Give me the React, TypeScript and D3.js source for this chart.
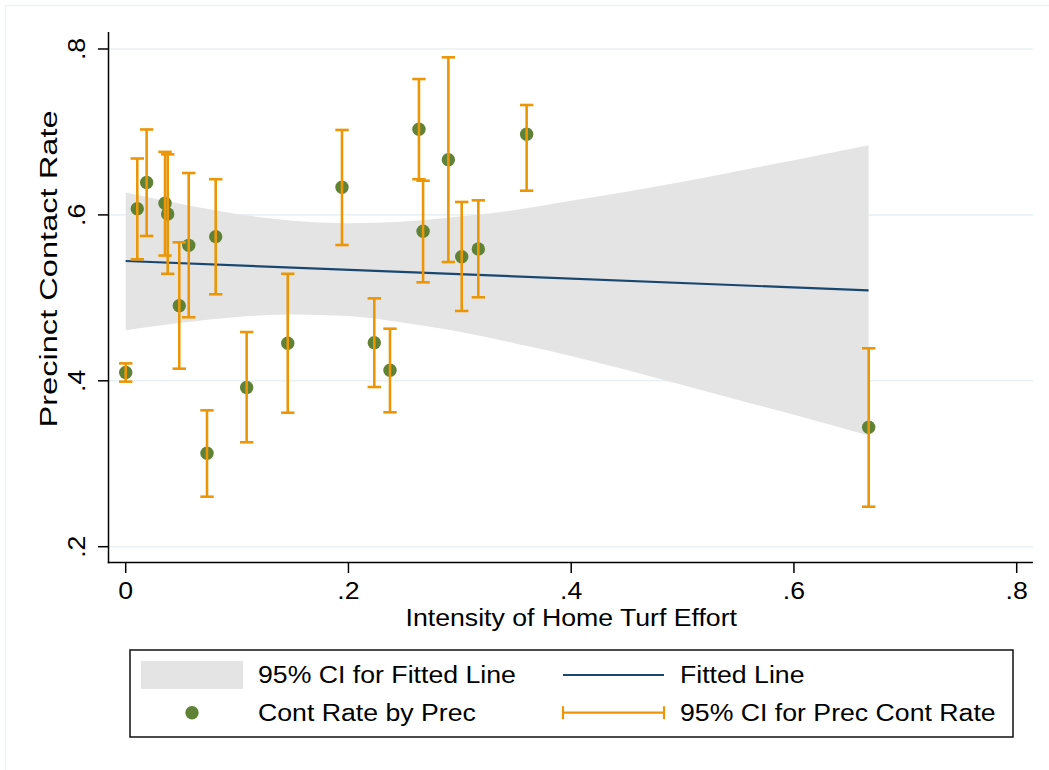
import React from "react";
import * as d3 from "d3";

// Precinct-level observations
const turfEffort = [0, 0.0104, 0.0188, 0.0353, 0.0377, 0.0481, 0.0566, 0.073, 0.0808, 0.1086, 0.1455, 0.1942, 0.2232, 0.2373, 0.2633, 0.267, 0.2897, 0.3017, 0.3166, 0.36, 0.6671];
const contactRate = [0.41, 0.6075, 0.639, 0.614, 0.601, 0.4906, 0.5633, 0.3126, 0.5738, 0.392, 0.4452, 0.6333, 0.446, 0.4127, 0.7032, 0.5802, 0.6666, 0.5496, 0.5589, 0.6972, 0.344];
const ciLow = [0.399, 0.5465, 0.5746, 0.551, 0.529, 0.4146, 0.4766, 0.2603, 0.5043, 0.3259, 0.3615, 0.5637, 0.3925, 0.362, 0.643, 0.5187, 0.5432, 0.4842, 0.5007, 0.6292, 0.2482];
const ciHigh = [0.421, 0.668, 0.703, 0.676, 0.673, 0.567, 0.6505, 0.3644, 0.643, 0.4588, 0.529, 0.7024, 0.4994, 0.4628, 0.7638, 0.6412, 0.79, 0.6156, 0.6176, 0.7325, 0.4392];

// Fitted line and its confidence band
const fitX = [0, 0.667];
const fitY = [0.5444, 0.509];
const bandX = [0, 0.05, 0.1, 0.15, 0.2, 0.25, 0.3, 0.35, 0.4, 0.45, 0.5, 0.55, 0.6, 0.667];
const bandHigh = [0.627, 0.613, 0.601, 0.593, 0.59, 0.592, 0.598, 0.606, 0.617, 0.628, 0.64, 0.653, 0.666, 0.684];
const bandLow = [0.461, 0.47, 0.477, 0.48, 0.478, 0.47, 0.459, 0.445, 0.43, 0.413, 0.395, 0.377, 0.359, 0.334];

const xTicks = [0, 0.2, 0.4, 0.6, 0.8];
const yTicks = [0.2, 0.4, 0.6, 0.8];
const tickLabel = (v: number) => (v === 0 ? "0" : d3.format(".1f")(v).replace(/^0/, ""));

const legendItems = ["95% CI for Fitted Line", "Fitted Line", "Cont Rate by Prec", "95% CI for Prec Cont Rate"];
const xTitle = "Intensity of Home Turf Effort";
const yTitle = "Precinct Contact Rate";

const FONT = "'Liberation Sans', Arial, Helvetica, sans-serif";
const NAVY = "#1a476f";
const GREEN = "#5f8236";
const ORANGE = "#eb9606";
const BAND = "#e4e4e4";
const GRID = "#eaf1f2";
const FS = 23;
const SX = 1.16;

export default function App() {
  const x = d3.scaleLinear().domain([0, 0.8]).range([125.7, 1016.7]);
  const y = d3.scaleLinear().domain([0.2, 0.8]).range([546.7, 49]);
  const plotL = 108.5, plotR = 1033, plotT = 32, plotB = 562.5;

  const bandPts = bandX.map((v, i) => ({ v, lo: bandLow[i], hi: bandHigh[i] }));
  const area = d3
    .area<{ v: number; lo: number; hi: number }>()
    .x((d) => x(d.v))
    .y0((d) => y(d.lo))
    .y1((d) => y(d.hi))
    .curve(d3.curveMonotoneX);
  const line = d3
    .line<number>()
    .x((_, i) => x(fitX[i]))
    .y((d) => y(d));

  const capW = 6.7;
  const hText = (tx: number, ty: number, s: string, anchor = "start", sx = SX, fs = FS) => (
    <text
      transform={`translate(${tx},${ty}) scale(${sx},1)`}
      textAnchor={anchor}
      fontFamily={FONT}
      fontSize={fs}
      fill="#000"
    >
      {s}
    </text>
  );

  const row1 = 675, row2 = 712.7;

  return (
    <svg width={1049} height={770} style={{ position: "absolute", left: 0, top: 0, background: "#fff" }}>
      <rect x={0} y={0} width={1049} height={770} fill="#fff" />
      {/* outer graph region outline */}
      <path d="M5.5,770 L5.5,5.5 L1049,5.5" fill="none" stroke="#eef2f2" strokeWidth={1.5} />

      {/* gridlines */}
      {yTicks.map((t) => (
        <line key={t} x1={plotL} x2={plotR} y1={y(t)} y2={y(t)} stroke={GRID} strokeWidth={1.6} />
      ))}

      {/* CI band */}
      <path d={area(bandPts) || ""} fill={BAND} />
      {/* fitted line */}
      <path d={line(fitY) || ""} fill="none" stroke={NAVY} strokeWidth={2.2} />

      {/* points */}
      {turfEffort.map((v, i) => (
        <circle key={"p" + i} cx={x(v)} cy={y(contactRate[i])} r={6.7} fill={GREEN} />
      ))}
      {/* error bars */}
      {turfEffort.map((v, i) => (
        <g key={"e" + i} stroke={ORANGE} strokeWidth={2.6} fill="none">
          <line x1={x(v)} x2={x(v)} y1={y(ciLow[i])} y2={y(ciHigh[i])} />
          <line x1={x(v) - capW} x2={x(v) + capW} y1={y(ciLow[i])} y2={y(ciLow[i])} />
          <line x1={x(v) - capW} x2={x(v) + capW} y1={y(ciHigh[i])} y2={y(ciHigh[i])} />
        </g>
      ))}

      {/* axes */}
      <line x1={plotL} x2={plotL} y1={plotT} y2={plotB + 0.75} stroke="#000" strokeWidth={1.5} />
      <line x1={plotL - 0.75} x2={plotR} y1={plotB} y2={plotB} stroke="#000" strokeWidth={1.5} />
      {yTicks.map((t) => (
        <g key={"yt" + t}>
          <line x1={plotL - 10.5} x2={plotL} y1={y(t)} y2={y(t)} stroke="#000" strokeWidth={1.5} />
          <text
            transform={`translate(85,${y(t)}) rotate(-90) scale(${SX},1)`}
            textAnchor="middle"
            fontFamily={FONT}
            fontSize={FS}
          >
            {tickLabel(t)}
          </text>
        </g>
      ))}
      {xTicks.map((t) => (
        <g key={"xt" + t}>
          <line x1={x(t)} x2={x(t)} y1={plotB} y2={plotB + 10.5} stroke="#000" strokeWidth={1.5} />
          {hText(x(t), 598.5, tickLabel(t), "middle")}
        </g>
      ))}

      {/* axis titles */}
      {hText((plotL + plotR) / 2 + 0.5, 626, xTitle, "middle")}
      <text
        transform={`translate(57,269) rotate(-90) scale(1.36,1)`}
        textAnchor="middle"
        fontFamily={FONT}
        fontSize={24}
      >
        {yTitle}
      </text>

      {/* legend */}
      <rect x={130} y={650} width={883} height={87} fill="#fff" stroke="#111" strokeWidth={1.5} />
      <rect x={141} y={661} width={102} height={28} fill={BAND} />
      {hText(258, row1 + 8.3, legendItems[0])}
      <line x1={563} x2={664} y1={row1} y2={row1} stroke={NAVY} strokeWidth={2.2} />
      {hText(680, row1 + 8.3, legendItems[1])}
      <circle cx={192} cy={row2} r={6.7} fill={GREEN} />
      {hText(258, row2 + 8.3, legendItems[2])}
      <g stroke={ORANGE} strokeWidth={2.2}>
        <line x1={563} x2={664} y1={row2} y2={row2} />
        <line x1={563} x2={563} y1={row2 - 6.5} y2={row2 + 6.5} />
        <line x1={664} x2={664} y1={row2 - 6.5} y2={row2 + 6.5} />
      </g>
      {hText(680, row2 + 8.3, legendItems[3])}
    </svg>
  );
}
